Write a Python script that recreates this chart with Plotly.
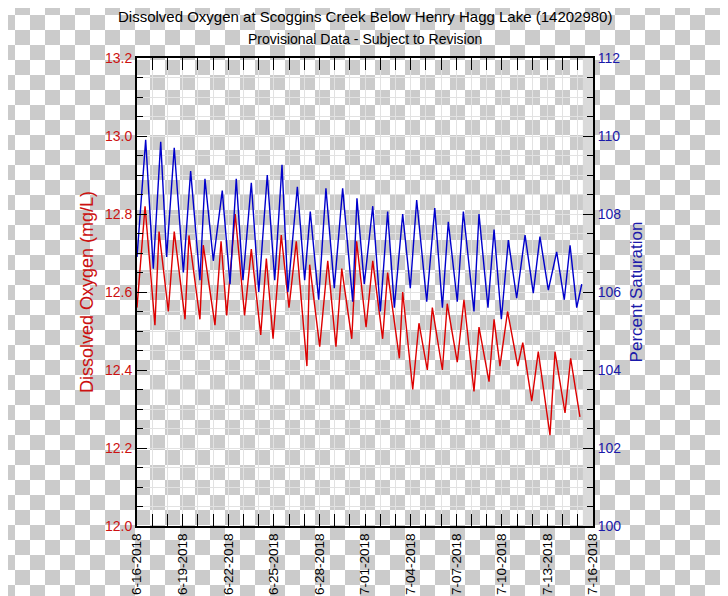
import base64
import plotly.graph_objects as go

# ---------------- data ----------------
do_times = [
    "2018-06-16 00:00", "2018-06-16 12:43", "2018-06-17 04:19", "2018-06-17 10:48",
    "2018-06-18 01:26", "2018-06-18 10:48", "2018-06-19 03:50", "2018-06-19 10:05",
    "2018-06-20 03:22", "2018-06-20 08:38", "2018-06-21 03:07", "2018-06-21 12:43",
    "2018-06-21 21:36", "2018-06-22 11:02", "2018-06-23 01:55", "2018-06-23 12:29",
    "2018-06-24 03:22", "2018-06-24 12:14", "2018-06-24 22:48", "2018-06-25 11:46",
    "2018-06-26 00:00", "2018-06-26 11:31", "2018-06-27 04:19", "2018-06-27 08:38",
    "2018-06-28 00:29", "2018-06-28 13:12", "2018-06-29 02:10", "2018-06-29 11:17",
    "2018-06-30 03:07", "2018-06-30 10:48", "2018-07-01 01:41", "2018-07-01 12:14",
    "2018-07-02 03:50", "2018-07-02 11:46", "2018-07-03 06:14", "2018-07-03 11:31",
    "2018-07-04 03:22", "2018-07-04 13:12", "2018-07-05 02:24", "2018-07-05 10:19",
    "2018-07-06 02:10", "2018-07-06 09:50", "2018-07-07 01:41", "2018-07-07 12:14",
    "2018-07-08 04:05", "2018-07-08 12:00", "2018-07-09 03:50", "2018-07-09 11:46",
    "2018-07-09 21:07", "2018-07-10 09:07", "2018-07-11 01:12", "2018-07-11 09:07",
    "2018-07-11 23:17", "2018-07-12 09:36", "2018-07-13 04:05", "2018-07-13 12:00",
    "2018-07-14 03:50", "2018-07-14 12:43", "2018-07-15 03:22",
]
do_values = [
    12.56, 12.82, 12.515, 12.755,
    12.55, 12.755, 12.53, 12.745,
    12.53, 12.72, 12.515, 12.73,
    12.54, 12.80, 12.54, 12.71,
    12.49, 12.686, 12.48, 12.746,
    12.56, 12.73, 12.41, 12.67,
    12.46, 12.68, 12.46, 12.66,
    12.48, 12.73, 12.51, 12.68,
    12.48, 12.65, 12.43, 12.60,
    12.35, 12.52, 12.40, 12.56,
    12.40, 12.57, 12.42, 12.58,
    12.345, 12.51, 12.37, 12.53,
    12.41, 12.55, 12.41, 12.47,
    12.32, 12.447, 12.233, 12.447,
    12.29, 12.43, 12.28,
]

sat_times = [
    "2018-06-16 00:00", "2018-06-16 13:41", "2018-06-17 01:41", "2018-06-17 13:26",
    "2018-06-17 22:48", "2018-06-18 10:48", "2018-06-19 01:12", "2018-06-19 12:43",
    "2018-06-20 03:22", "2018-06-20 11:17", "2018-06-21 00:29", "2018-06-21 14:38",
    "2018-06-22 02:53", "2018-06-22 12:43", "2018-06-22 23:17", "2018-06-23 12:29",
    "2018-06-24 00:14", "2018-06-24 13:41", "2018-06-25 01:26", "2018-06-25 12:58",
    "2018-06-25 22:19", "2018-06-26 13:12", "2018-06-27 00:43", "2018-06-27 09:36",
    "2018-06-27 22:48", "2018-06-28 10:19", "2018-06-28 23:31", "2018-06-29 12:43",
    "2018-06-30 04:34", "2018-06-30 11:17", "2018-06-30 22:48", "2018-07-01 12:14",
    "2018-07-02 00:14", "2018-07-02 11:46", "2018-07-02 22:19", "2018-07-03 11:31",
    "2018-07-03 23:31", "2018-07-04 09:36", "2018-07-05 01:26", "2018-07-05 14:10",
    "2018-07-06 02:10", "2018-07-06 11:31", "2018-07-07 01:41", "2018-07-07 11:17",
    "2018-07-08 04:05", "2018-07-08 12:00", "2018-07-09 02:10", "2018-07-09 11:46",
    "2018-07-09 23:17", "2018-07-10 10:19", "2018-07-10 23:31", "2018-07-11 12:43",
    "2018-07-12 01:41", "2018-07-12 12:14", "2018-07-13 01:26", "2018-07-13 14:38",
    "2018-07-14 02:38", "2018-07-14 11:46", "2018-07-14 22:19", "2018-07-15 06:14",
]
sat_values = [
    106.9, 109.9, 106.6, 109.85,
    106.9, 109.7, 106.5, 109.1,
    106.3, 108.9, 106.8, 108.6,
    106.2, 108.9, 106.3, 108.8,
    106.0, 109.0, 106.3, 109.26,
    106.0, 108.7, 106.3, 108.06,
    105.8, 108.66, 106.1, 108.66,
    105.75, 108.4, 106.2, 108.2,
    105.5, 108.06, 105.6, 108.0,
    106.1, 108.36, 105.75, 108.15,
    105.6, 107.8, 105.75, 108.06,
    105.5, 108.0, 105.6, 107.6,
    105.3, 107.33, 105.84, 107.46,
    105.97, 107.42, 106.05, 107.03,
    105.8, 107.2, 105.6, 106.2,
]

x_range = ["2018-06-16", "2018-07-16"]
do_range = [12.0, 13.2]
sat_range = [100, 112]
shade_start = "2018-07-15 08:00"

title_text = "Dissolved Oxygen at Scoggins Creek Below Henry Hagg Lake (14202980)"
subtitle_text = "Provisional Data - Subject to Revision"
left_title = "Dissolved Oxygen (mg/L)"
right_title = "Percent Saturation"

# ---------------- layout geometry ----------------
# The page body has an 8px margin, so the figure is drawn 8px smaller and
# everything is placed relative to the (8, 8) page offset.
OFF = 8
W, H = 728 - OFF, 596 - OFF
ML, MR, MT, MB = 137 - OFF, 135, 58 - OFF, 70
PW, PH = W - ML - MR, H - MT - MB

RED = "#dd0000"
RED_TXT = "#cc1111"
BLUE = "#0000cc"
BLUE_TXT = "#1a1aaa"
FONT = "Liberation Sans, Arial, sans-serif"
DAY = 86400000

# checkerboard backdrop (transparent-PNG look), phase tied to page pixels
svg = (
    f'<svg xmlns="http://www.w3.org/2000/svg" width="{W}" height="{H}">'
    f'<defs><pattern id="p" x="{-OFF}" y="{-OFF}" width="30" height="30" '
    'patternUnits="userSpaceOnUse">'
    '<rect width="30" height="30" fill="#ffffff"/>'
    '<rect x="15" y="0" width="15" height="15" fill="#cbcbcb"/>'
    '<rect x="0" y="15" width="15" height="15" fill="#cbcbcb"/>'
    '</pattern></defs>'
    f'<rect width="{W}" height="{H}" fill="url(#p)"/></svg>'
)
svg_uri = "data:image/svg+xml;base64," + base64.b64encode(svg.encode()).decode()

fig = go.Figure()
fig.add_trace(go.Scatter(x=do_times, y=do_values, mode="lines",
                         line=dict(color=RED, width=1.4), yaxis="y",
                         showlegend=False))
fig.add_trace(go.Scatter(x=sat_times, y=sat_values, mode="lines",
                         line=dict(color=BLUE, width=1.4), yaxis="y2",
                         showlegend=False))

GRID = "#e2e2e2"

fig.update_layout(
    width=W, height=H,
    margin=dict(l=ML, r=MR, t=MT, b=MB, pad=0, autoexpand=False),
    paper_bgcolor="rgba(0,0,0,0)",
    plot_bgcolor="rgba(0,0,0,0)",
    font=dict(family=FONT, size=14, color="black"),
    images=[dict(source=svg_uri, xref="paper", yref="paper",
                 x=-ML / PW, y=1 + MT / PH, sizex=W / PW, sizey=H / PH,
                 xanchor="left", yanchor="top", sizing="stretch",
                 layer="below")],
    shapes=[dict(type="rect", xref="x", yref="paper", x0=shade_start,
                 x1=x_range[1], y0=0, y1=1, fillcolor="#dadada",
                 line=dict(width=0), layer="below")],
    xaxis=dict(
        type="date", range=x_range, tick0=x_range[0], dtick=3 * DAY,
        tickformat="%-m-%d-%Y", tickangle=-90, ticks="inside", ticklen=12,
        tickwidth=1.3, tickcolor="black", showline=True, linecolor="black",
        linewidth=2, mirror="allticks", showgrid=True, gridcolor=GRID,
        gridwidth=1, zeroline=False, automargin=False,
        tickfont=dict(size=13.5, color="black"),
        minor=dict(dtick=DAY, tick0=x_range[0], ticks="inside", ticklen=6,
                   tickwidth=1.3, tickcolor="black", showgrid=True,
                   gridcolor=GRID, gridwidth=1),
    ),
    yaxis=dict(
        range=do_range, dtick=0.2, tick0=12.0, tickformat=".1f",
        ticks="inside", ticklen=10, tickwidth=1.3, tickcolor="black",
        showline=True, linecolor="black", linewidth=2, showgrid=True,
        gridcolor=GRID, zeroline=False, automargin=False,
        tickfont=dict(size=14, color=RED_TXT),
        title=dict(text=left_title, font=dict(size=18, color=RED_TXT),
                   standoff=7),
        minor=dict(dtick=0.05, ticks="inside", ticklen=6, tickwidth=1.3,
                   tickcolor="black", showgrid=True, gridcolor=GRID),
    ),
    yaxis2=dict(
        range=sat_range, dtick=2, tick0=100, overlaying="y", side="right",
        ticks="inside", ticklen=10, tickwidth=1.3, tickcolor="black",
        showline=True, linecolor="black", linewidth=2, showgrid=False,
        zeroline=False, automargin=False,
        tickfont=dict(size=14, color=BLUE_TXT),
        title=dict(text=right_title, font=dict(size=17, color=BLUE_TXT),
                   standoff=10),
        minor=dict(dtick=0.5, ticks="inside", ticklen=6, tickwidth=1.3,
                   tickcolor="black", showgrid=False),
    ),
    annotations=[
        dict(text=title_text, xref="paper", yref="paper", x=0.5,
             y=1 + (MT - (16.5 - OFF)) / PH, xanchor="center",
             yanchor="middle", showarrow=False,
             font=dict(size=15, color="black")),
        dict(text=subtitle_text, xref="paper", yref="paper", x=0.5,
             y=1 + (MT - (39 - OFF)) / PH, xanchor="center",
             yanchor="middle", showarrow=False,
             font=dict(size=14, color="black")),
    ],
)

fig.write_html("out.html")
